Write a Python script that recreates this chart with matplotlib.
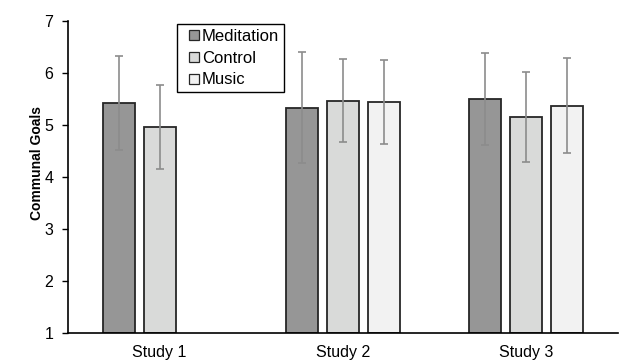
import numpy as np
import matplotlib.pyplot as plt
from matplotlib.lines import Line2D

plt.rcParams['font.family'] = ['Liberation Sans', 'DejaVu Sans']

#%% data
studies = ['Study 1', 'Study 2', 'Study 3']
groups = ['Meditation', 'Control', 'Music']
means = {
    'Meditation': [5.42, 5.33, 5.50],
    'Control': [4.96, 5.47, 5.15],
    'Music': [np.nan, 5.44, 5.37],
}
errs = {
    'Meditation': [0.91, 1.07, 0.88],
    'Control': [0.81, 0.79, 0.87],
    'Music': [np.nan, 0.81, 0.91],
}
colors = {'Meditation': '#969696', 'Control': '#d9dad9', 'Music': '#f2f2f2'}

#%% plot
fig = plt.figure(figsize=(6.21, 3.6), dpi=100)
ax = fig.add_axes([68 / 621, 27 / 360, 550 / 621, 312 / 360])

x = np.arange(len(studies)) + 0.5
width = 0.175
step = 0.224
for i, g in enumerate(groups):
    pos = x + (i - 1) * step
    ax.bar(pos, np.array(means[g]) - 1, width, bottom=1, color=colors[g],
           edgecolor='#262626', linewidth=1.3, zorder=2)
    ax.errorbar(pos, means[g], yerr=errs[g], fmt='none', ecolor='#8c8c8c',
                elinewidth=1.2, capsize=3, capthick=1.2, zorder=3)

ax.set_xlim(0, 3)
ax.set_ylim(1, 7)
ax.set_yticks(range(1, 8))
ax.set_xticks(x)
ax.set_xticklabels(studies, fontsize=11.5)
ax.tick_params(axis='x', length=0, pad=9)
ax.tick_params(axis='y', length=4.5, width=1, labelsize=11.5, pad=6)
ax.set_ylabel('Communal Goals', fontsize=10, fontweight='bold')
ax.yaxis.set_label_coords(-0.044, 0.545)
for s in ['top', 'right']:
    ax.spines[s].set_visible(False)
for s in ['left', 'bottom']:
    ax.spines[s].set_linewidth(1.2)

# small square legend keys, like the original
handles = [Line2D([], [], linestyle='None', marker='s', markersize=7.6,
                  markerfacecolor=colors[g], markeredgecolor='#262626',
                  markeredgewidth=0.9) for g in groups]
leg = ax.legend(handles, groups, loc='upper left', bbox_to_anchor=(0.198, 0.99),
                fontsize=12, borderaxespad=0, handlelength=1.5,
                handletextpad=-0.3, labelspacing=0.4, borderpad=0.3,
                fancybox=False, edgecolor='black', framealpha=1)
leg.get_frame().set_linewidth(1.0)

fig.savefig('out.png', dpi=100)
